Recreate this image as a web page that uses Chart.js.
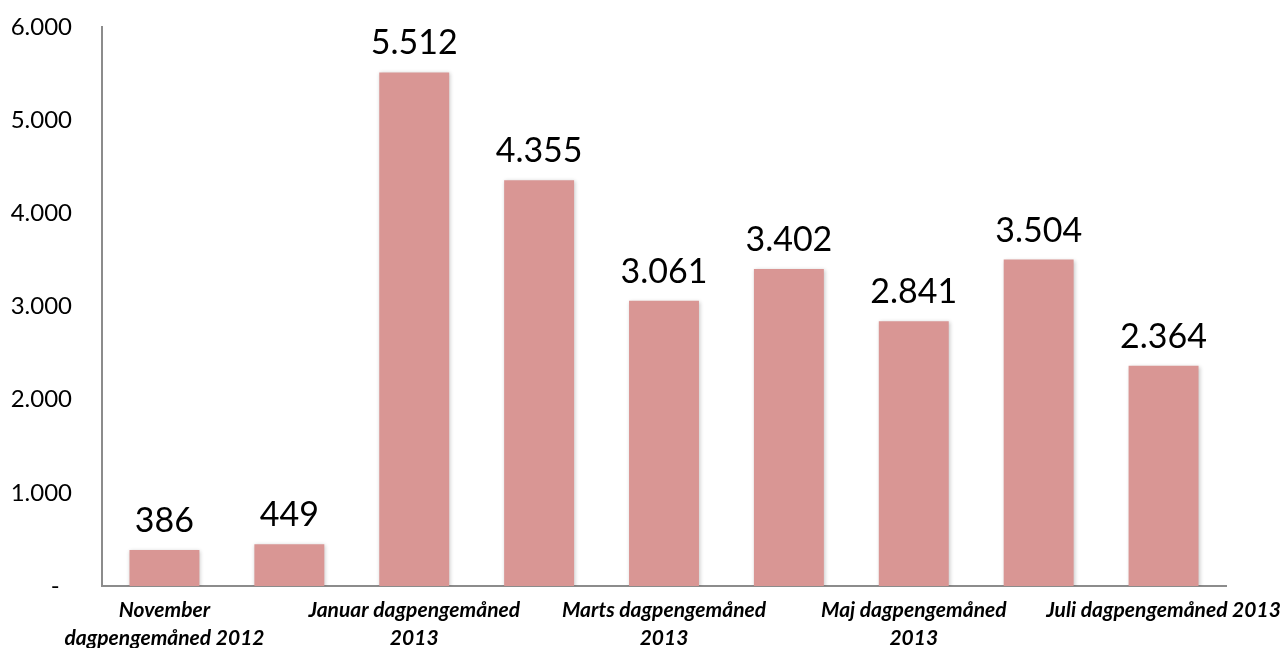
<!DOCTYPE html>
<html>
<head>
<meta charset="utf-8">
<script src="https://cdn.jsdelivr.net/npm/chart.js@4"></script>
<style>
  html, body { margin: 0; padding: 0; background: #fff; }
  #wrap { width: 1282px; height: 648px; position: relative; }
</style>
</head>
<body>
<div id="wrap"><canvas id="chart"></canvas></div>
<script>
const CATEGORIES = [
  ["November", "dagpengemåned 2012"],
  ["December dagpengemåned", "2012"],
  ["Januar dagpengemåned", "2013"],
  ["Februar dagpengemåned", "2013"],
  ["Marts dagpengemåned", "2013"],
  ["April dagpengemåned", "2013"],
  ["Maj dagpengemåned", "2013"],
  ["Juni dagpengemåned", "2013"],
  "Juli dagpengemåned 2013",
];
const VALUES = [386, 449, 5512, 4355, 3061, 3402, 2841, 3504, 2364];
const Y_TICKS = [0, 1000, 2000, 3000, 4000, 5000, 6000];

const FONT = "Lato, 'Open Sans', sans-serif";
const BAR_COLOR = "#d99694";
const AXIS_COLOR = "#8c8c8c";

// Danish thousands separator, "-" for zero like the Excel format
function fmt(v) {
  if (v === 0) return "-";
  return v.toString().replace(/\B(?=(\d{3})+(?!\d))/g, ".");
}

const barShadow = {
  id: "barShadow",
  beforeDatasetsDraw(chart) {
    const ctx = chart.ctx;
    ctx.save();
    ctx.shadowColor = "rgba(0,0,0,0.22)";
    ctx.shadowBlur = 4;
    ctx.shadowOffsetX = 1;
    ctx.shadowOffsetY = 1;
  },
  afterDatasetsDraw(chart) {
    chart.ctx.restore();
  },
};

const valueLabels = {
  id: "valueLabels",
  afterDatasetsDraw(chart) {
    const ctx = chart.ctx;
    const meta = chart.getDatasetMeta(0);
    ctx.save();
    ctx.font = "34px " + FONT;
    ctx.fillStyle = "#000";
    ctx.textAlign = "center";
    ctx.textBaseline = "alphabetic";
    meta.data.forEach((bar, i) => {
      ctx.fillText(fmt(VALUES[i]), bar.x, bar.y - 18);
    });
    ctx.restore();
  },
};

new Chart(document.getElementById("chart"), {
  type: "bar",
  data: {
    labels: CATEGORIES,
    datasets: [
      {
        data: VALUES,
        backgroundColor: BAR_COLOR,
        borderWidth: 0,
        categoryPercentage: 1,
        barPercentage: 0.56,
      },
    ],
  },
  options: {
    responsive: true,
    maintainAspectRatio: false,
    animation: false,
    layout: { padding: { top: 27, right: 56, left: 0, bottom: 0 } },
    plugins: {
      legend: { display: false },
      tooltip: { enabled: false },
    },
    scales: {
      x: {
        grid: { display: false, drawTicks: false },
        border: { color: AXIS_COLOR, width: 2 },
        afterFit(scale) {
          scale.height = 62;
          scale.paddingLeft = 0;
          scale.paddingRight = 0;
        },
        ticks: {
          autoSkip: false,
          maxRotation: 0,
          padding: 11,
          color: "#000",
          font: { family: FONT, size: 21, weight: "bold", style: "italic", lineHeight: 1.3 },
          callback(value, index) {
            return index % 2 === 0 ? CATEGORIES[index] : "";
          },
        },
      },
      y: {
        min: 0,
        max: 6000,
        afterFit(scale) {
          scale.width = 102;
          scale.paddingTop = 0;
          scale.paddingBottom = 0;
        },
        afterBuildTicks(scale) {
          scale.ticks = Y_TICKS.map((v) => ({ value: v }));
        },
        grid: { display: false, drawTicks: false },
        border: { color: AXIS_COLOR, width: 2 },
        ticks: {
          padding: 30,
          color: "#000",
          font: { family: FONT, size: 24 },
          callback(value) {
            return value === 0 ? "-  " : fmt(value);
          },
        },
      },
    },
  },
  plugins: [barShadow, valueLabels],
});
</script>
</body>
</html>
